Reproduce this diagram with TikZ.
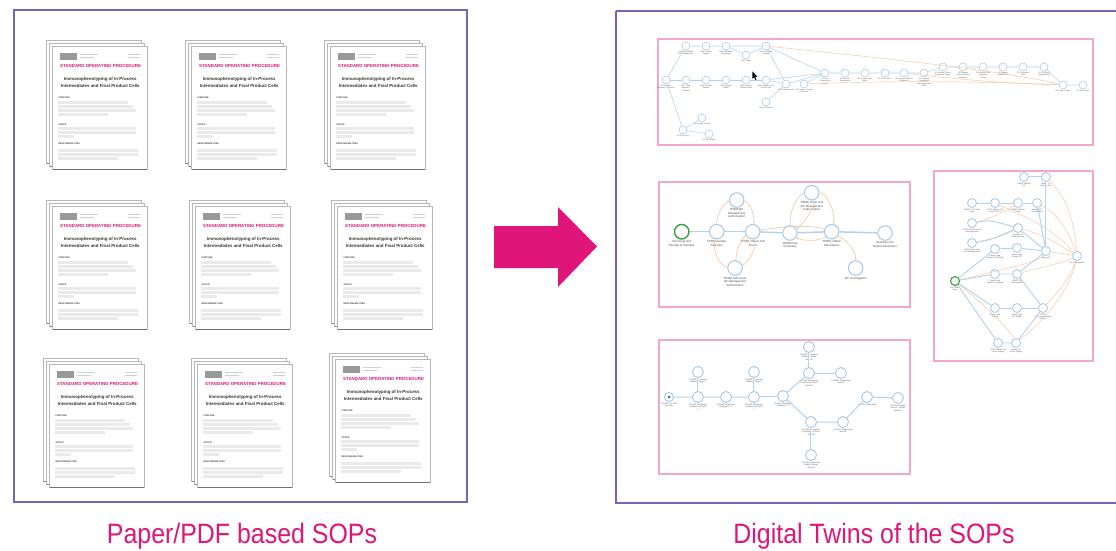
\documentclass[tikz,border=0pt]{standalone}
\usepackage{fontspec}
\setmainfont{Liberation Sans}
\usetikzlibrary{arrows.meta}
\definecolor{frameC}{HTML}{7066BE}
\definecolor{pinkC}{HTML}{E0157A}
\definecolor{boxC}{HTML}{F4A6CC}
\definecolor{nodeC}{HTML}{A3C8E8}
\definecolor{edgeC}{HTML}{B3D2EC}
\definecolor{orC}{HTML}{F7C59A}
\definecolor{greenC}{HTML}{3A9E3E}
\definecolor{dotC}{HTML}{1F6FD0}
\definecolor{barC}{HTML}{EAEAEA}
\tikzset{
  sheet/.style={fill=white, draw=black!28, line width=0.5},
  bar/.style={fill=barC},
  pics/sopstack/.style={code={
    \draw[sheet] (-6,-6) rectangle ++(95,123);
    \draw[black!50, line width=1] (-5.5,117.4) -- (89,117.4);
    \draw[sheet] (-3,-3) rectangle ++(95,123);
    \draw[black!50, line width=1] (-2.5,120.4) -- (92,120.4);
    \draw[sheet] (0,0) rectangle (95,123);
    \draw[black!55, line width=1.3] (0.5,123.6) -- (95,123.6);
    \fill[black!40] (8,7) rectangle (25,14);
    \fill[black!18] (28,8) rectangle (46,9.2);
    \fill[black!18] (28,11) rectangle (42,12.2);
    \fill[black!18] (76,8) rectangle (88,9.2);
    \fill[black!18] (76,11) rectangle (88,12.2);
    \node[anchor=west, inner sep=0, text=pinkC, font=\bfseries\fontsize{4.4}{5}\selectfont] at (8,20) {STANDARD OPERATING PROCEDURE};
    \node[inner sep=0, align=center, text=black!80, font=\bfseries\fontsize{4.4}{6.6}\selectfont] at (48.3,36.7) {Immunophenotyping of In-Process\\Intermediates and Final Product Cells};
    \node[anchor=west, inner sep=0, text=black!75, font=\bfseries\fontsize{2.3}{3}\selectfont] at (6.3,51.7) {PURPOSE};
    \fill[bar] (6,55) rectangle ++(70,3);
    \fill[bar] (6,59) rectangle ++(75,3);
    \fill[bar] (6,63) rectangle ++(78,3);
    \fill[bar] (6,67) rectangle ++(50,3);
    \node[anchor=west, inner sep=0, text=black!75, font=\bfseries\fontsize{2.3}{3}\selectfont] at (6.3,78.3) {SCOPE};
    \fill[bar] (6,81) rectangle ++(78,3);
    \fill[bar] (6,85) rectangle ++(78,3);
    \fill[bar] (6,89) rectangle ++(16,3);
    \node[anchor=west, inner sep=0, text=black!75, font=\bfseries\fontsize{2.3}{3}\selectfont] at (6.3,97.7) {RESPONSIBILITIES};
    \fill[bar] (6,103) rectangle ++(80,3);
    \fill[bar] (6,107) rectangle ++(80,3);
    \fill[bar] (6,111) rectangle ++(60,3);
  }},
  frame/.style={draw=frameC, line width=2},
  gbox/.style={draw=boxC, line width=1.2},
  tl/.style={font=\fontsize{1.9}{2.3}\selectfont, text=black!65, align=center, inner sep=0.6},
  ml/.style={font=\fontsize{2.9}{3.5}\selectfont, text=black!70, align=center, inner sep=1},
  rl/.style={font=\fontsize{2}{2.4}\selectfont, text=black!65, align=center, inner sep=0.6},
  bl/.style={font=\fontsize{2.1}{2.5}\selectfont, text=black!65, align=center, inner sep=0.8},
  tn/.style={circle, draw=nodeC, line width=0.55, minimum size=8, inner sep=0, fill=white, label={[tl]below:{#1}}},
  mn/.style={circle, draw=nodeC, line width=1, minimum size=14.5, inner sep=0, fill=white, label={[ml]below:{#1}}},
  rn/.style={circle, draw=nodeC, line width=0.8, minimum size=9, inner sep=0, fill=white, label={[rl]below:{#1}}},
  bn/.style={circle, draw=nodeC, line width=0.9, minimum size=11, inner sep=0, fill=white, label={[bl]below:{#1}}},
  te/.style={draw=edgeC, line width=0.55},
  me/.style={draw=edgeC, line width=1.5},
  re/.style={draw=edgeC, line width=0.9},
  be/.style={draw=edgeC, line width=1},
  dbl/.style={double=white, double distance=0.9pt, line width=0.5},
  oe/.style={draw=orC, line width=0.6, -{Stealth[length=2.4pt,width=2pt]}},
  oeb/.style={draw=orC, line width=0.45},
  captxt/.style={anchor=base, text=pinkC, font=\fontsize{28}{32}\selectfont, inner sep=0, xscale=0.89},
}
\begin{document}
\begin{tikzpicture}[x=1pt,y=-1pt]
\useasboundingbox (0,0) rectangle (1116,551);
\fill[white] (0,0) rectangle (1116,551);

% ---------- left panel ----------
\draw[frame] (14,10) rectangle (467,502);
\pic at (52,46) {sopstack};
\pic at (191,46) {sopstack};
\pic at (330,46) {sopstack};
\pic at (52,206) {sopstack};
\pic at (195,206) {sopstack};
\pic at (337,206) {sopstack};
\pic at (49,364) {sopstack};
\pic at (197,364) {sopstack};
\pic at (335,359) {sopstack};

% ---------- arrow ----------
\fill[pinkC] (494,226) -- (558,226) -- (558,207) -- (597,246.5) -- (558,287) -- (558,268) -- (494,268) -- cycle;

% ---------- right panel ----------
\draw[frame] (616,11) -- (1125,11);
\draw[frame] (616,11) -- (616,503) -- (1125,503);

\draw[gbox] (658,39) rectangle (1093,145);
\draw[gbox] (659,182) rectangle (910,307);
\draw[gbox] (934,171) rectangle (1093,361);
\draw[gbox] (659,340) rectangle (910,474);

% ---- top graph ----
\node[tn={SC Sample\\Inventory Collection}] (t1) at (666,80) {};
\node[tn={SM1 Thaw/Wash\\with Supplement}] (t2) at (686,46) {};
\node[tn={SM1 Transfer\\Sample}] (t3) at (706,46) {};
\node[tn={SM1 Add Media\\Supplement}] (t4) at (726,46) {};
\node[tn={SM1 Thaw}] (t5) at (746,55) {};
\node[tn={SM1 Centrifuge\\Sample}] (t6) at (766,46) {};
\node[tn={SM1 Thaw\\Sample in\\Incubator}] (t7) at (686,80) {};
\node[tn={SM1 Transfer\\Sample}] (t8) at (706,80) {};
\node[tn={SM1 Prepare\\Media}] (t9) at (726,80) {};
\node[tn={SM1 Prepare\\Transfer Flask}] (t10) at (746,80) {};
\node[tn={SM1 Transfer Cells\\to Cell Flask}] (t11) at (766,80) {};
\node[tn={SC1 Prepare Cells}] (t12) at (786,84) {};
\node[tn={SC Prepare Transfer\\Cell Count}] (t13) at (804,84) {};
\node[tn={SC1 Cell Count}] (t14) at (766,102) {};
\node[tn={SC Prep\\Transduction\\Media}] (m1) at (825,73) {};
\node[tn={SC Perform\\Transduction}] (m2) at (845,73) {};
\node[tn={SC Prepare Cells\\Wash}] (m3) at (865,73) {};
\node[tn={SC Cell Count 2}] (m4) at (885,73) {};
\node[tn={SC Prepare Cells for\\Expansion}] (m5) at (904,73) {};
\node[tn={SC Expand\\Transduced\\Cells Seed Flask\\Cells}] (m6) at (924,73) {};
\node[tn={SC Monitor Cells in\\Expansion Culture}] (u1) at (943,67) {};
\node[tn={SC Prepare\\Harvest Media\\Additions}] (u2) at (963,67) {};
\node[tn={SC Harvest Cells\\Expansion\\Culture}] (u3) at (983,67) {};
\node[tn={SC Prepare\\Harvest Cells}] (u4) at (1003,67) {};
\node[tn={SC Formulate\\Cells}] (u5) at (1023,67) {};
\node[tn={SC Fill Final\\Product Bags}] (u6) at (1044,67) {};
\node[tn={SC Label Product}] (r1) at (1063,85) {};
\node[tn={SC Store Cells}] (r2) at (1083,85) {};
\node[tn={SC Cell Count}] (b1) at (683,130) {};
\node[tn={SC Sample Aliquot}] (b2) at (702,118) {};
\node[tn={SC QC Testing}] (b3) at (709,134) {};

\draw[oeb] (t6) .. controls (880,58) and (1000,70) .. (r1);
\draw[oeb] (t13) .. controls (900,80) and (1000,82) .. (r1);
\draw[oeb] (m5) .. controls (960,80) and (1020,84) .. (r1);
\draw[te] (t1) -- (t2) -- (t3) -- (t4) -- (t6);
\draw[te] (t4) -- (t5) -- (t6);
\draw[te] (t1) -- (t7) -- (t8) -- (t9) -- (t10) -- (t11);
\draw[te] (t6) -- (t12);
\draw[te] (t6) -- (m1);
\draw[te] (t11) -- (m1);
\draw[te] (t11) -- (t12);
\draw[te] (t12) -- (m1);
\draw[te] (t13) -- (m1);
\draw[te] (t14) -- (t12);
\draw[te] (t1) -- (b1) -- (b2);
\draw[te] (b1) -- (b3);
\draw[te] (m1) -- (m2) -- (m3) -- (m4) -- (m5) -- (m6) -- (u1) -- (u2) -- (u3) -- (u4) -- (u5) -- (u6) -- (r1) -- (r2);
\fill[black] (752.4,71.5) -- (752.4,78.8) -- (754.1,77.2) -- (755.4,80) -- (756.4,79.5) -- (755.1,76.8) -- (757.4,76.8) -- cycle;

% ---- middle-left graph ----
\node[mn={Receiving and\\Storage of Samples}, draw=greenC, line width=1.4] (a) at (681.7,231.7) {};
\node[mn={TP008 Sample\\Selection}] (b) at (716.7,231.7) {};
\node[mn={TP008 QC\\Management\\Authorization}] (c) at (736.7,200) {};
\node[mn={TP008\_Obtain Cell\\Count}] (d) at (752.7,231.7) {};
\node[mn={TP008 Cell Count\\QC Management\\Authorization}] (e) at (735,268) {};
\node[mn={TP008 Flow\\Cytometry}] (f) at (790,233) {};
\node[mn={TP008\_Enter Cell\\QC Management\\Authorization}] (g) at (811.7,192.7) {};
\node[mn={TP008\_Obtain\\Calculations}] (h) at (831.7,231.7) {};
\node[mn={Upstream QC\\Report Generation}] (i) at (885,233) {};
\node[mn={QC Investigation}] (j) at (855.7,268) {};

\draw[oe] (b) .. controls +(0,-18) and +(-12,2) .. (c);
\draw[oe] (c) .. controls +(14,2) and +(2,-14) .. (d);
\draw[oe] (e) .. controls +(-16,-2) and +(-4,18) .. (b);
\draw[oe] (e) .. controls +(2,-22) and +(-10,6) .. (d);
\draw[oe] (d) .. controls +(4,22) and +(10,-4) .. (e);
\draw[oe] (f) .. controls +(0,-28) and +(-12,2) .. (g);
\draw[oe] (g) .. controls +(4,16) and +(10,-6) .. (f);
\draw[oe] (g) .. controls +(16,0) and +(4,-18) .. (h);
\draw[oe] (h) .. controls +(-12,10) and +(12,8) .. (f);
\draw[oe] (h) .. controls +(-22,-8) and +(22,-4) .. (d);
\draw[oe] (h) .. controls +(14,8) and +(0,-18) .. (j);
\draw[me] (a) -- (b);
\draw[me] (b) -- (d);
\draw[me] (d) -- (f);
\draw[me] (f) -- (h);
\draw[me] (h) -- (i);

% ---- right graph ----
\node[rn={PBMC Viability\\QC}] (R1) at (1024,177) {};
\node[rn={Qualify QC\\Investigation}] (R2) at (1046,177) {};
\node[rn={PBMC Cell Count\\Draw}] (R3) at (972,203) {};
\node[rn={PCPS Obtain Cell\\Count QC TN}] (R4) at (995,203) {};
\node[rn={PBMC Viability\\Draw}] (R5) at (1018,203) {};
\node[rn={Viability QC\\Investigation}] (R6) at (1037,203) {};
\node[rn={PCPS TRV Exclusion\\Gating Review}] (R7) at (972,223) {};
\node[rn={PCPS Ratio Calc\\Cell Gating Review}] (R8) at (972,243) {};
\node[rn={Transfer QC\\Gating Review}] (R9) at (1018,228) {};
\node[rn={Phase Light\\Scatter QC Gating}] (R10) at (995,249) {};
\node[rn={Phase Light\\Scatter QC}] (R11) at (1017,248) {};
\node[rn={Gating QC}] (R12) at (1046,251) {};
\node[rn={QC Investigation}] (R13) at (1077,256) {};
\node[rn={Get PBMC\\Draw}, draw=greenC, line width=1.1] (G) at (955,281) {};
\node[rn={Phase Light\\Scatter QC Gating}] (R14) at (995,274) {};
\node[rn={PBMC QC\\Compensation}] (R15) at (1017,274) {};
\node[rn={Phase Light\\Gating}] (R16) at (995,308) {};
\node[rn={Phase Light\\QC Gating}] (R17) at (1017,308) {};
\node[rn={PCPS\\QC Compensation\\Review}] (R18) at (1043,308) {};
\node[rn={PCPS Obtain Cell\\Count Gating}] (R19) at (998,343) {};
\node[rn={Obtain Cell\\Count Gating}] (R20) at (1016,343) {};

\draw[oeb] (R2) .. controls (1070,200) and (1075,230) .. (R13);
\draw[oeb] (R6) .. controls (1060,215) and (1070,235) .. (R13);
\draw[oeb] (R4) .. controls (1020,215) and (1050,225) .. (R13);
\draw[oeb] (R9) .. controls (1045,235) and (1060,245) .. (R13);
\draw[oeb] (R12) -- (R13);
\draw[oeb] (R15) .. controls (1050,265) and (1065,262) .. (R13);
\draw[oeb] (R18) .. controls (1060,290) and (1072,275) .. (R13);
\draw[oeb] (R20) .. controls (1045,320) and (1070,290) .. (R13);
\draw[oeb] (G) .. controls (1000,270) and (1040,262) .. (R12);
\draw[oeb] (G) .. controls (990,310) and (1010,330) .. (R20);
\draw[oeb] (R5) .. controls (1000,215) and (985,220) .. (R7);
\draw[oeb] (R9) .. controls (1000,238) and (985,240) .. (R8);
\draw[re, dbl] (R1) -- (R2);
\draw[re] (R3) -- (R4) -- (R5) -- (R6);
\draw[re, dbl] (R2) -- (R12);
\draw[re] (R6) -- (R12);
\draw[re] (R7) .. controls (990,220) .. (R9);
\draw[re] (R8) .. controls (990,240) .. (R9);
\draw[re] (R9) -- (R12);
\draw[re] (G) -- (R10);
\draw[re] (R10) -- (R11) -- (R12);
\draw[re] (G) -- (R14);
\draw[re] (R14) -- (R15) -- (R12);
\draw[re] (R15) -- (R18);
\draw[re] (G) -- (R16);
\draw[re] (R16) -- (R17) -- (R18);
\draw[re] (G) -- (R19);
\draw[re] (R19) -- (R20) -- (R18);

% ---- bottom graph ----
\node[bn={LVV-WC Pre-Run\\Records}, minimum size=9] (S) at (669,397) {};
\fill[dotC] (S.center) circle (1.5);
\node[bn={LVV-WC Expansion\\Confluence Check\\1}] (B1) at (698,397) {};
\node[bn={LVV-WC Expansion\\Media Change 1}] (B2) at (698,372) {};
\node[bn={LVV-WC Expansion\\Passage 1 - 1}] (B3) at (726,397) {};
\node[bn={LVV-WC Expansion\\Confluence Check\\2}] (B4) at (754,397) {};
\node[bn={LVV-WC Expansion\\Media Change 2}] (B5) at (754,372) {};
\node[bn={LVV-WC Expanding\\Passage 2 - 3}] (B6) at (783,396) {};
\node[bn={LVV-WC Expansion\\Confluence Check\\Seed A}] (B7) at (809,373) {};
\node[bn={LVV-WC Expansion\\Media Change\\Seed A}] (B8) at (809,347) {};
\node[bn={LVV-WC Dispensing\\Seed A}] (B9) at (841,373) {};
\node[bn={LVV-WC Expansion\\Confluence Check\\Seed B}] (B10) at (811,422) {};
\node[bn={LVV-WC Expansion\\Media Change\\Seed B}] (B11) at (811,455) {};
\node[bn={LVV-WC Dispensing\\Seed B}] (B12) at (843,422) {};
\node[bn={LVV-WC Harvesting}] (B13) at (867,397) {};
\node[bn={LVV-WC Quality\\Control - Quality\\Metrics}] (B14) at (898,398) {};

\draw[be] (S) -- (B1) -- (B3) -- (B4) -- (B6);
\draw[be, dbl] (B1) -- (B2);
\draw[be, dbl] (B4) -- (B5);
\draw[be] (B6) -- (B7);
\draw[be, dbl] (B7) -- (B8);
\draw[be] (B7) -- (B9);
\draw[be] (B6) -- (B10);
\draw[be, dbl] (B10) -- (B11);
\draw[be] (B10) -- (B12) -- (B13) -- (B14);

% ---------- captions ----------
\node[captxt] (capL) at (242,543) {Paper/PDF based SOPs};
\node[captxt] (capR) at (874,543) {Digital Twins of the SOPs};
\end{tikzpicture}
\end{document}
